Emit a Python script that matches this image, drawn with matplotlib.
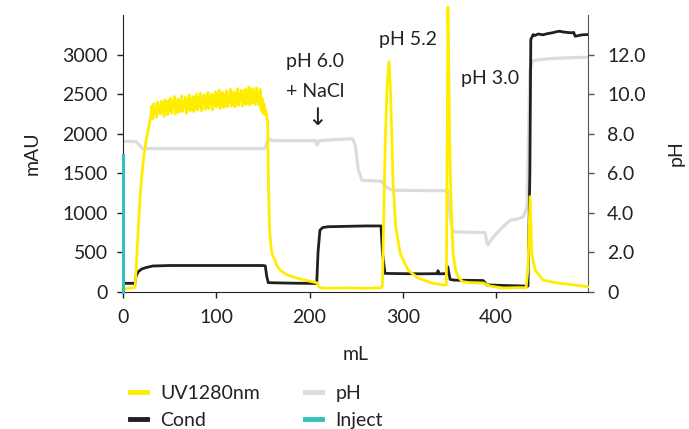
import matplotlib
matplotlib.use("Agg")
import matplotlib.pyplot as plt
from matplotlib.lines import Line2D

plt.rcParams['font.family'] = ['Lato', 'DejaVu Sans']
plt.rcParams['font.size'] = 14

# UV 280 nm (mAU) - rise, noisy plateau (1 mL steps from 30 mL), then the rest
uv_rise_ml = [0, 5, 10, 12, 13, 15.5, 18, 20, 22, 24.5, 27, 28.5]
uv_rise = [40, 45, 50, 55, 60, 600, 1150, 1450, 1680, 1900, 2050, 2150]

uv_plateau = [
    2230, 2350, 2190, 2380, 2260, 2320, 2210, 2400, 2270, 2340,
    2250, 2410, 2290, 2380, 2220, 2430, 2300, 2360, 2240, 2420,
    2290, 2450, 2260, 2390, 2330, 2470, 2250, 2400, 2310, 2440,
    2270, 2420, 2330, 2480, 2280, 2390, 2350, 2460, 2260, 2430,
    2310, 2490, 2290, 2400, 2360, 2470, 2280, 2450, 2330, 2500,
    2300, 2460, 2340, 2510, 2290, 2420, 2380, 2490, 2310, 2470,
    2330, 2520, 2320, 2450, 2390, 2500, 2300, 2480, 2360, 2530,
    2340, 2490, 2370, 2550, 2320, 2460, 2400, 2520, 2330, 2480,
    2360, 2540, 2340, 2470, 2410, 2560, 2350, 2500, 2380, 2530,
    2340, 2510, 2400, 2570, 2360, 2490, 2420, 2550, 2350, 2520,
    2380, 2560, 2370, 2500, 2430, 2590, 2360, 2540, 2400, 2570,
    2390, 2530, 2370, 2580, 2420, 2510, 2360, 2560, 2300, 2450,
    2260, 2380, 2240, 2300,
]
uv_plateau_ml = list(range(30, 30 + len(uv_plateau)))

uv_tail_ml = [155, 156, 157, 158.5, 160, 163, 165, 168, 175, 186, 195, 204, 208,
              210, 213, 225, 240, 255, 270, 277,
              278, 279, 281, 283, 285, 286.5, 288, 289.4, 292.3, 297, 305.5,
              316, 331, 343, 346.5, 347.5, 348.2, 350.5, 351.5, 353.7, 356,
              359, 364, 372, 386, 393, 407, 420, 432, 434, 436.2, 438, 441.6,
              450, 465, 480, 498]
uv_tail = [2150, 1300, 800, 580, 470, 400, 330, 280, 220, 177, 150, 127, 115,
           63, 50, 48, 52, 47, 50, 55,
           80, 700, 1900, 2600, 2910, 2600, 2010, 1380, 823, 490, 278,
           177, 114, 89, 90, 2000, 3600, 1600, 1165, 490, 300,
           190, 130, 118, 114, 76, 50, 55, 55, 300, 1206, 490, 278,
           152, 114, 95, 67]

uv_ml = uv_rise_ml + uv_plateau_ml + uv_tail_ml
uv_mau = uv_rise + uv_plateau + uv_tail

# Conductivity (plotted on mAU scale)
cond_ml = [0, 12.9, 14, 16.4, 20, 25, 32, 50, 100, 150, 152.5, 154, 155.7, 180,
           207.6, 209, 211, 214, 220, 240, 260, 276.5, 278, 280.8, 300, 320,
           337, 337.6, 338.2, 347, 348, 350.5, 355, 386, 390, 410, 432.7, 434,
           436, 437, 439.5, 441, 445, 450, 455, 460, 465, 468, 472, 476, 481,
           483, 484.5, 488, 492, 498]
cond = [110, 110, 200, 257, 290, 310, 329, 335, 335, 335, 330, 200, 118, 112,
        108, 500, 780, 815, 825, 830, 835, 835, 500, 235, 232, 230,
        232, 270, 230, 232, 320, 160, 150, 145, 90, 82, 75, 75,
        1500, 3190, 3253, 3240, 3260, 3250, 3265, 3275, 3290, 3295, 3285, 3280, 3275,
        3280, 3232, 3240, 3250, 3253]

# pH
ph_ml = [0, 14, 17, 21, 152, 154, 156, 160, 206, 208, 210, 246, 249, 252, 256,
         277, 282, 289, 348, 350, 353, 356, 388, 390, 391, 394, 397, 407, 415,
         422, 429, 433, 436, 439.5, 458, 498]
ph = [7.62, 7.6, 7.45, 7.25, 7.25, 7.5, 7.75, 7.65, 7.65, 7.42, 7.65, 7.75, 7.4,
      6.2, 5.65, 5.6, 5.3, 5.14, 5.12, 4.0, 3.1, 3.04, 3.0, 2.5, 2.37, 2.6, 2.79,
      3.29, 3.63, 3.68, 3.8, 4.3, 11.2, 11.7, 11.8, 11.87]

# Inject marker
inject_ml = [0, 0]
inject_mau = [0, 1730]

uv_color = '#ffed00'
cond_color = '#231f20'
ph_color = '#dcdcdc'
inject_color = '#35c0bd'
text_color = '#222222'

fig = plt.figure(figsize=(6.89, 4.29), dpi=100)
ax = fig.add_axes([0.1785, 0.3193, 0.6745, 0.6457])
ax2 = ax.twinx()
ax.set_zorder(ax2.get_zorder() + 1)
ax.patch.set_visible(False)

ax2.plot(ph_ml, ph, color=ph_color, lw=2.3)
ax.plot(cond_ml, cond, color=cond_color, lw=2.0)
ax.plot(uv_ml, uv_mau, color=uv_color, lw=2.0, clip_on=False)
ax.plot(inject_ml, inject_mau, color=inject_color, lw=2.2, clip_on=False, zorder=3)

ax.set_xlim(0, 498)
ax.set_ylim(0, 3500)
ax2.set_ylim(0, 14)

ax.set_xticks([0, 100, 200, 300, 400])
ax.set_yticks([0, 500, 1000, 1500, 2000, 2500, 3000])
ax2.set_yticks([0, 2, 4, 6, 8, 10, 12])
ax2.set_yticklabels(['0', '2.0', '4.0', '6.0', '8.0', '10.0', '12.0'])

for a in (ax, ax2):
    a.spines['top'].set_visible(False)
ax.spines['right'].set_visible(False)
ax2.spines['left'].set_visible(False)
ax2.spines['bottom'].set_visible(False)
ax.spines['left'].set_color(text_color)
ax.spines['bottom'].set_color(text_color)
ax2.spines['right'].set_color('#555555')

ax.tick_params(axis='y', direction='out', length=4, width=1, pad=7,
               colors=text_color, labelsize=14)
ax.tick_params(axis='x', direction='out', length=4, width=1, pad=8,
               colors=text_color, labelsize=14)
ax2.tick_params(axis='y', direction='out', length=4, width=1, pad=10,
                color='#555555', labelcolor=text_color, labelsize=14)

ax.set_ylabel('mAU', fontsize=14, color=text_color)
ax.yaxis.set_label_coords(-0.178, 0.5)
ax2.set_ylabel('pH', fontsize=14, color=text_color, rotation=90)
ax2.yaxis.set_label_coords(1.172, 0.5)
ax.set_xlabel('mL', fontsize=14, color=text_color)
ax.xaxis.set_label_coords(0.5, -0.195)

ax.text(206, 2911, 'pH 6.0', ha='center', va='center', fontsize=14, color=text_color)
ax.text(206, 2532, '+ NaCl', ha='center', va='center', fontsize=14, color=text_color)
ax.text(208, 2203, '↓', ha='center', va='center', fontsize=17, color=text_color,
        family=['DejaVu Sans'])
ax.text(305, 3190, 'pH 5.2', ha='center', va='center', fontsize=14, color=text_color)
ax.text(393, 2696, 'pH 3.0', ha='center', va='center', fontsize=14, color=text_color)

handles = [Line2D([], [], color=uv_color, lw=3.5),
           Line2D([], [], color=cond_color, lw=3.5),
           Line2D([], [], color=ph_color, lw=3.5),
           Line2D([], [], color=inject_color, lw=3.5)]
labels = ['UV1280nm', 'Cond', 'pH', 'Inject']
fig.legend(handles, labels, ncol=2, loc='upper left',
           bbox_to_anchor=(0.1887, 0.103), frameon=False, fontsize=14,
           borderpad=0, borderaxespad=0, handlelength=0.85,
           handletextpad=0.72, columnspacing=2.3, labelspacing=0.5,
           labelcolor=text_color)

fig.savefig('out.png', dpi=100)
